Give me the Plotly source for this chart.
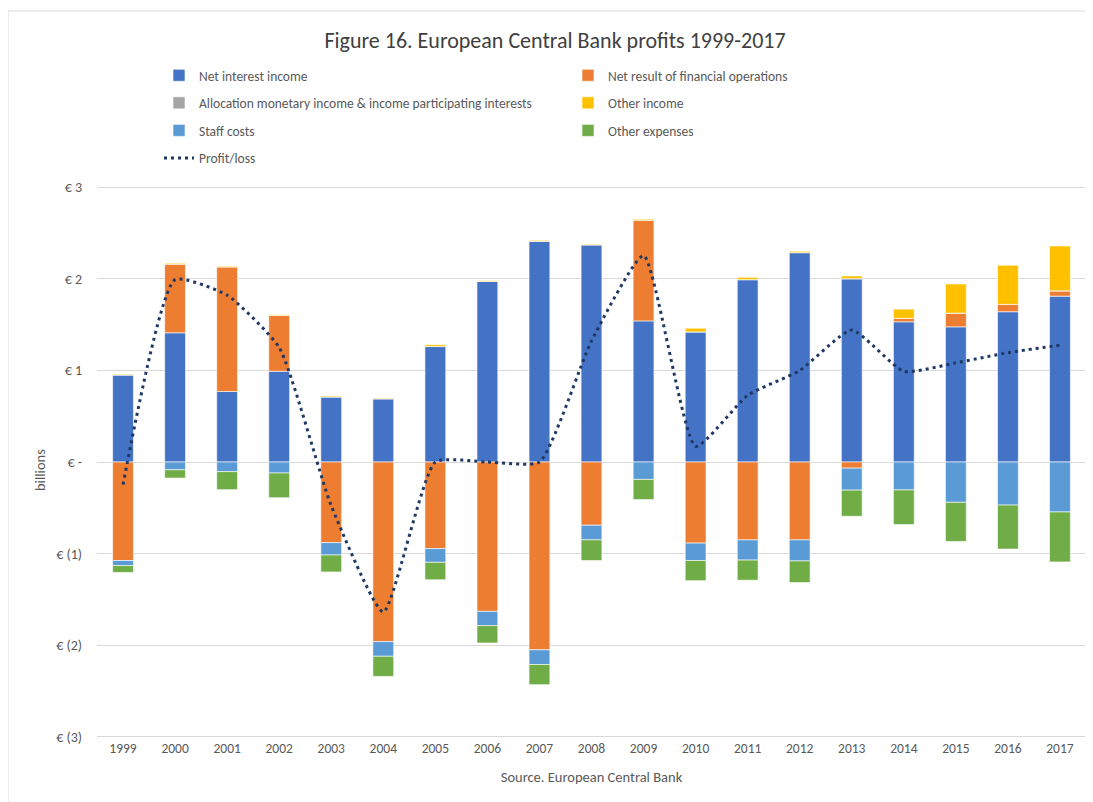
import plotly.graph_objects as go

years = [str(y) for y in range(1999, 2018)]

net_interest = [0.95, 1.41, 0.77, 0.99, 0.71, 0.69, 1.26, 1.97, 2.41, 2.37,
                1.54, 1.42, 1.99, 2.285, 2.00, 1.53, 1.475, 1.64, 1.81]
net_financial = [-1.075, 0.75, 1.36, 0.61, -0.88, -1.96, -0.945, -1.63, -2.05, -0.69,
                 1.10, -0.885, -0.85, -0.85, -0.067, 0.038, 0.15, 0.08, 0.058]
allocation = [0.0, 0.0, 0.0, 0.0, 0.0, 0.0, 0.0, 0.0, 0.0, 0.0,
              0.0, 0.0, 0.0, 0.0, 0.0, 0.0, 0.0, 0.0, 0.0]
other_income = [0.008, 0.01, 0.008, 0.008, 0.01, 0.008, 0.02, 0.01, 0.01, 0.008,
                0.01, 0.04, 0.025, 0.015, 0.03, 0.10, 0.318, 0.427, 0.49]
staff_costs = [-0.055, -0.085, -0.105, -0.12, -0.135, -0.16, -0.15, -0.155, -0.16, -0.16,
               -0.19, -0.19, -0.22, -0.23, -0.24, -0.305, -0.44, -0.47, -0.545]
other_expenses = [-0.075, -0.09, -0.197, -0.27, -0.185, -0.22, -0.19, -0.19, -0.22, -0.225,
                  -0.22, -0.22, -0.22, -0.235, -0.285, -0.377, -0.427, -0.48, -0.545]
profit_loss = [-0.247, 1.99, 1.82, 1.25, -0.477, -1.636, 0.0, 0.0, 0.0, 1.322,
               2.253, 0.171, 0.728, 0.998, 1.440, 0.989, 1.082, 1.193, 1.275]

ytick_vals = [3, 2, 1, 0, -1, -2, -3]
ytick_text = ["€ 3", "€ 2", "€ 1", "€ -", "€ (1)", "€ (2)", "€ (3)"]

FONT = "Carlito, 'Liberation Sans Narrow', Lato, sans-serif"
TXT = "#595959"

W, H = 1085, 794
L, R, T, B = 89, 7, 178, 64
PW, PH = W - L - R, H - T - B

fig = go.Figure()

bar_series = [
    ("Net interest income", net_interest, "#4472C4", "legend"),
    ("Net result of financial operations", net_financial, "#ED7D31", "legend2"),
    ("Allocation monetary income & income participating interests", allocation, "#A5A5A5", "legend"),
    ("Other income", other_income, "#FFC000", "legend2"),
    ("Staff costs", staff_costs, "#5B9BD5", "legend"),
    ("Other expenses", other_expenses, "#70AD47", "legend2"),
]
for i, (name, vals, col, lg) in enumerate(bar_series):
    fig.add_trace(go.Bar(
        x=years, y=vals, name=name, legend=lg, legendgroup=f"g{i}",
        marker=dict(color=col, line=dict(color="white", width=0.6)),
    ))

fig.add_trace(go.Scatter(
    x=years, y=profit_loss, name="Profit/loss", mode="lines", legend="legend",
    legendgroup="g9",
    line=dict(color="#203864", width=3, dash="3px,4px", shape="spline", smoothing=0.5),
))

fig.update_layout(
    width=W, height=H,
    barmode="relative", bargap=0.6,
    paper_bgcolor="white", plot_bgcolor="white",
    font=dict(family=FONT, size=13, color=TXT),
    margin=dict(l=L, r=R, t=T, b=B, autoexpand=False),
    title=dict(text="Figure 16. European Central Bank profits 1999-2017",
               x=547 / W, xref="container", xanchor="center",
               y=1 - 32 / H, yref="container", yanchor="middle",
               font=dict(family=FONT, size=22, color="#404040")),
    legend=dict(x=151 / W, xref="container", xanchor="left",
                y=1 - 52 / H, yref="container", yanchor="top",
                orientation="v", tracegroupgap=7, font=dict(size=13.5, color=TXT),
                bgcolor="rgba(0,0,0,0)", itemwidth=30),
    legend2=dict(x=560 / W, xref="container", xanchor="left",
                 y=1 - 52 / H, yref="container", yanchor="top",
                 orientation="v", tracegroupgap=7, font=dict(size=13.5, color=TXT),
                 bgcolor="rgba(0,0,0,0)", itemwidth=30),
    xaxis=dict(showgrid=False, showline=False, ticks="", tickfont=dict(size=13.5, color=TXT),
               title=dict(text="Source. European Central Bank", standoff=16,
                          font=dict(size=14.5, color=TXT))),
    yaxis=dict(range=[-3.012, 3.012], tickvals=ytick_vals, ticktext=ytick_text,
               showgrid=True, gridcolor="#D9D9D9", gridwidth=1,
               zeroline=True, zerolinecolor="#D9D9D9", zerolinewidth=1,
               showline=False, ticks="", ticklabelstandoff=14,
               tickfont=dict(size=14, color=TXT)),
    annotations=[dict(text="billions", xref="paper", yref="paper",
                      x=(32 - L) / PW, y=(H - B - 462) / PH,
                      xanchor="center", yanchor="middle", textangle=-90,
                      showarrow=False, font=dict(size=14.5, color=TXT))],
    shapes=[dict(type="rect", xref="paper", yref="paper",
                 x0=(0 - L) / PW, x1=1.3, y0=-0.3, y1=1 + (T - 3) / PH,
                 line=dict(color="#D9D9D9", width=1), layer="below")],
)

fig.write_html("out.html")
